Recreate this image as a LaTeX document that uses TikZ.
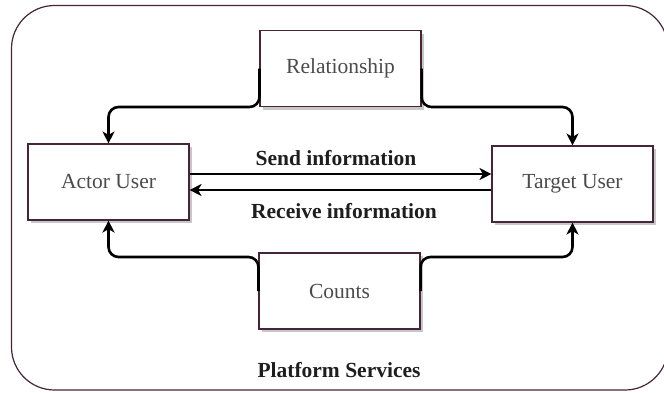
\documentclass[tikz,border=0pt]{standalone}
\usepackage{fontspec}
\setmainfont{Liberation Serif}
\usetikzlibrary{arrows.meta,shadows}
\definecolor{edge}{RGB}{72,36,56}
\definecolor{ink}{RGB}{30,30,30}
\begin{document}
\begin{tikzpicture}[x=1pt,y=-1pt,
  box/.style={draw=edge,line width=1.1pt,fill=white,inner sep=0pt,
    minimum width=161pt,minimum height=76pt,
    font=\fontsize{21.5}{25}\selectfont,text=ink!80,
    drop shadow={shadow xshift=3pt,shadow yshift=-3pt,fill=black!22,opacity=1}},
  link/.style={line width=2.6pt,rounded corners=10pt,
    -{Stealth[length=12pt,width=12pt,inset=3.5pt]}},
  lbl/.style={font=\bfseries\fontsize{21.5}{25}\selectfont,text=ink,inner sep=0pt}]
\useasboundingbox (0,0) rectangle (664,392);

% outer platform frame
\draw[edge,line width=1.2pt,rounded corners=43pt] (11.5,5.5) rectangle (668,390);

% service and user boxes
\node[box] (rel) at (340.5,68.5) {Relationship};
\node[box] (actor) at (108.5,182) {Actor User};
\node[box] (target) at (572.5,184) {Target User};
\node[box] (counts) at (339.5,291) {Counts};

% routing levels for the bus lines
\coordinate (topbus) at (0,107);
\coordinate (botbus) at (0,257);

% relationship feeds both users
\draw[link] (rel.west) |- (actor.north |- topbus) -- (actor.north);
\draw[link] (rel.east) |- (target.north |- topbus) -- (target.north);

% counts feeds both users
\draw[link] (counts.west) |- (actor.south |- botbus) -- (actor.south);
\draw[link] (counts.east) |- (target.south |- botbus) -- (target.south);

% information exchange
\coordinate (sendy) at (0,174);
\coordinate (recvy) at (0,190);
\draw[link] (actor.east |- sendy) -- (target.west |- sendy);
\draw[link] (target.west |- recvy) -- (actor.east |- recvy);

\node[lbl] (sendlbl) at (336,158) {Send information};
\node[lbl] (recvlbl) at (344,211) {Receive information};
\node[lbl] (platform) at (339,370) {Platform Services};
\end{tikzpicture}
\end{document}
